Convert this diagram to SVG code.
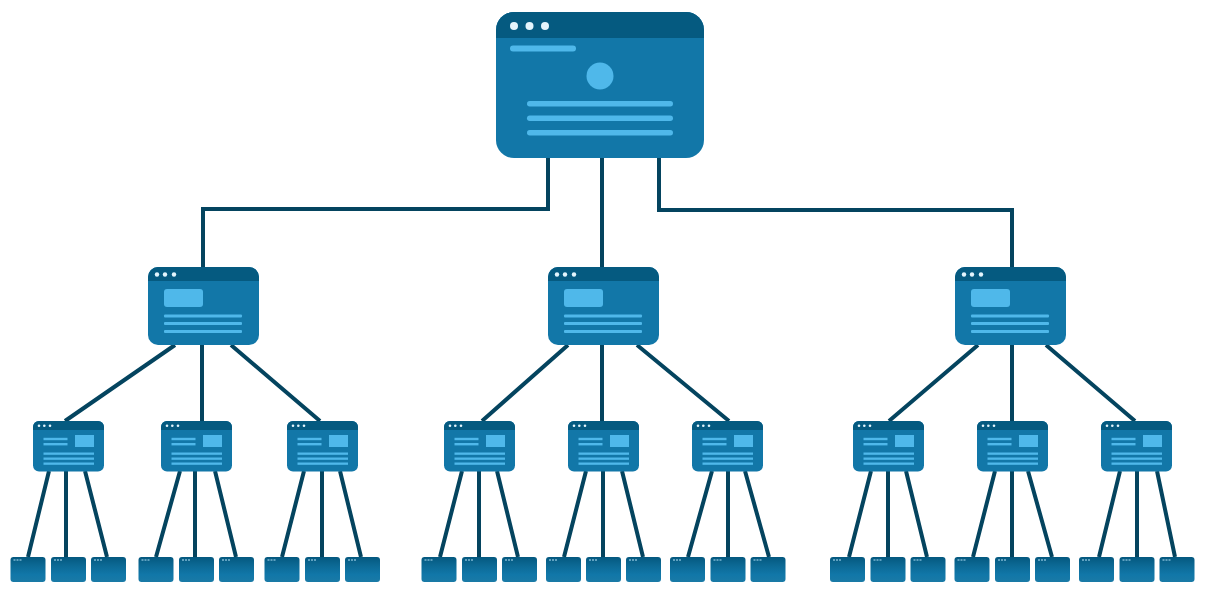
<svg xmlns="http://www.w3.org/2000/svg" width="1206" height="591" viewBox="0 0 1206 591">
<style>
.c{fill:none;stroke:#04445f;stroke-width:4}
.b{fill:#1277a8}.h{fill:#055a80}.l{fill:#4fb8ea}.d{fill:#e4f5fd}.e{fill:#b5e3f8}
</style>
<defs>
<clipPath id="ca"><rect width="208" height="146" rx="18"/></clipPath>
<clipPath id="cb"><rect width="111" height="78" rx="10"/></clipPath>
<clipPath id="cc"><rect width="71" height="50.500" rx="6"/></clipPath>
<linearGradient id="lg" x1="0" y1="0" x2="0" y2="1"><stop offset="0" stop-color="#04587f"/><stop offset=".3" stop-color="#0b6792"/><stop offset=".7" stop-color="#1177a8"/><stop offset="1" stop-color="#1a7aa6"/></linearGradient>
<g id="n1">
<rect class="b" width="208" height="146" rx="18"/>
<rect class="h" width="208" height="26" clip-path="url(#ca)"/>
<circle class="d" cx="18" cy="14" r="4"/><circle class="d" cx="33.500" cy="14" r="4"/><circle class="d" cx="49" cy="14" r="4"/>
<rect class="l" x="14" y="33.500" width="66" height="6" rx="3"/>
<circle class="l" cx="104" cy="64" r="13.500"/>
<rect class="l" x="31" y="89" width="146" height="5.500" rx="2.700"/>
<rect class="l" x="31" y="103.500" width="146" height="5.500" rx="2.700"/>
<rect class="l" x="31" y="118" width="146" height="5.500" rx="2.700"/>
</g>
<g id="n2">
<rect class="b" width="111" height="78" rx="10"/>
<rect class="h" width="111" height="14" clip-path="url(#cb)"/>
<circle class="d" cx="9" cy="7.500" r="2.200"/><circle class="d" cx="17" cy="7.500" r="2.200"/><circle class="d" cx="26" cy="7.500" r="2.200"/>
<rect class="l" x="16" y="22" width="39" height="18" rx="3"/>
<rect class="l" x="16" y="47.500" width="78" height="3" rx="1"/>
<rect class="l" x="16" y="55" width="78" height="3" rx="1"/>
<rect class="l" x="16" y="63" width="78" height="3" rx="1"/>
</g>
<g id="n3">
<rect class="b" width="71" height="50.500" rx="6"/>
<rect class="h" width="71" height="9" clip-path="url(#cc)"/>
<circle class="d" cx="6" cy="4.700" r="1.300"/><circle class="d" cx="11.300" cy="4.700" r="1.300"/><circle class="d" cx="17" cy="4.700" r="1.300"/>
<rect class="l" x="10.500" y="16.800" width="24" height="2.400"/>
<rect class="l" x="10.500" y="22" width="24" height="2.400"/>
<rect class="l" x="42" y="14" width="19" height="12"/>
<rect class="l" x="10.500" y="31.500" width="50.500" height="2.300"/>
<rect class="l" x="10.500" y="36.500" width="50.500" height="2.300"/>
<rect class="l" x="10.500" y="41.500" width="50.500" height="2.300"/>
</g>
<g id="n4">
<rect fill="url(#lg)" width="35" height="25" rx="3"/>
<rect class="e" x="3" y="2.500" width="2" height="1"/><rect class="e" x="6" y="2.500" width="2" height="1"/><rect class="e" x="9" y="2.500" width="2" height="1"/>
</g>
</defs>
<g id="connectors">
<path class="c" d="M548 158V209H203V267M602 158V267M659 158V210H1012V267"/>
<path class="c" d="M175 345L65 421M202 345V421M231 345L320 421"/>
<path class="c" d="M568 345L482 421M602 345V421M637 345L729 421"/>
<path class="c" d="M978 345L889 421M1012 345V421M1046 345L1135 421"/>
<path class="c" d="M49 471L28 557M66 471V557M85 471L107 557"/>
<path class="c" d="M180 471L156 557M195 471V557M215 471L236 557"/>
<path class="c" d="M304 471L282 557M322 471V557M340 471L361 557"/>
<path class="c" d="M462 471L440 557M479 471V557M497 471L518 557"/>
<path class="c" d="M586 471L564 557M603 471V557M622 471L643 557"/>
<path class="c" d="M712 471L688 557M728 471V557M745 471L769 557"/>
<path class="c" d="M871 471L849 557M888 471V557M906 471L927 557"/>
<path class="c" d="M995 471L973 557M1012 471V557M1028 471L1052 557"/>
<path class="c" d="M1120 471L1099 557M1137 471V557M1157 471L1175 557"/>
</g>
<g id="root"><use href="#n1" x="496" y="12"/></g>
<g id="m1"><use href="#n2" x="148" y="267"/></g>
<g id="m2"><use href="#n2" x="548" y="267"/></g>
<g id="m3"><use href="#n2" x="955" y="267"/></g>
<g id="s1"><use href="#n3" x="33" y="421"/></g>
<g id="s2"><use href="#n3" x="161" y="421"/></g>
<g id="s3"><use href="#n3" x="287" y="421"/></g>
<g id="s4"><use href="#n3" x="444" y="421"/></g>
<g id="s5"><use href="#n3" x="568" y="421"/></g>
<g id="s6"><use href="#n3" x="692" y="421"/></g>
<g id="s7"><use href="#n3" x="853" y="421"/></g>
<g id="s8"><use href="#n3" x="977" y="421"/></g>
<g id="s9"><use href="#n3" x="1101" y="421"/></g>
<g id="l1"><use href="#n4" x="10.500" y="557"/></g>
<g id="l2"><use href="#n4" x="51" y="557"/></g>
<g id="l3"><use href="#n4" x="91" y="557"/></g>
<g id="l4"><use href="#n4" x="138.500" y="557"/></g>
<g id="l5"><use href="#n4" x="179" y="557"/></g>
<g id="l6"><use href="#n4" x="219" y="557"/></g>
<g id="l7"><use href="#n4" x="264.500" y="557"/></g>
<g id="l8"><use href="#n4" x="305" y="557"/></g>
<g id="l9"><use href="#n4" x="345" y="557"/></g>
<g id="l10"><use href="#n4" x="421.500" y="557"/></g>
<g id="l11"><use href="#n4" x="462" y="557"/></g>
<g id="l12"><use href="#n4" x="502" y="557"/></g>
<g id="l13"><use href="#n4" x="546" y="557"/></g>
<g id="l14"><use href="#n4" x="586" y="557"/></g>
<g id="l15"><use href="#n4" x="626" y="557"/></g>
<g id="l16"><use href="#n4" x="670" y="557"/></g>
<g id="l17"><use href="#n4" x="710.500" y="557"/></g>
<g id="l18"><use href="#n4" x="750.500" y="557"/></g>
<g id="l19"><use href="#n4" x="830" y="557"/></g>
<g id="l20"><use href="#n4" x="870.500" y="557"/></g>
<g id="l21"><use href="#n4" x="910.500" y="557"/></g>
<g id="l22"><use href="#n4" x="954.500" y="557"/></g>
<g id="l23"><use href="#n4" x="995" y="557"/></g>
<g id="l24"><use href="#n4" x="1035" y="557"/></g>
<g id="l25"><use href="#n4" x="1079" y="557"/></g>
<g id="l26"><use href="#n4" x="1119.500" y="557"/></g>
<g id="l27"><use href="#n4" x="1159.500" y="557"/></g>
</svg>
